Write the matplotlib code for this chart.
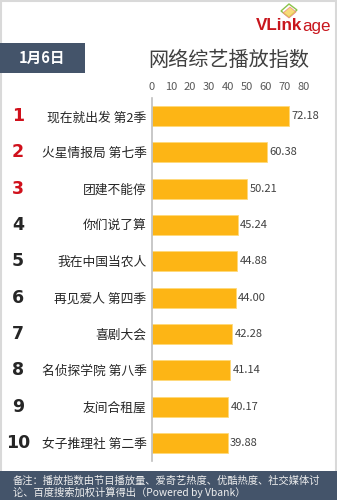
import matplotlib
matplotlib.use("Agg")
import matplotlib.pyplot as plt
from matplotlib.patches import Rectangle, Polygon
from matplotlib.transforms import blended_transform_factory

plt.rcParams['font.family'] = ['Noto Sans CJK SC', 'DejaVu Sans']

# ---- data ----
ranks = ["1", "2", "3", "4", "5", "6", "7", "8", "9", "10"]
shows = ["现在就出发 第2季", "火星情报局 第七季", "团建不能停", "你们说了算", "我在中国当农人",
         "再见爱人 第四季", "喜剧大会", "名侦探学院 第八季", "友间合租屋", "女子推理社 第二季"]
values = [72.18, 60.38, 50.21, 45.24, 44.88, 44.00, 42.28, 41.14, 40.17, 39.88]
xticks = [0, 10, 20, 30, 40, 50, 60, 70, 80]
title = "网络综艺播放指数"
date_label = "1月6日"
note_lines = ["备注：播放指数由节目播放量、爱奇艺热度、优酷热度、社交媒体讨",
              "论、百度搜索加权计算得出（Powered by Vbank）"]

W, H = 337, 500
fig = plt.figure(figsize=(W / 100, H / 100), dpi=100)
fig.patch.set_facecolor('white')

def fx(px):
    return px / W

def fy(py):
    return 1 - py / H

# border
fig.patches.append(Rectangle((0.002, 0.002), 0.996, 0.996, transform=fig.transFigure,
                             fill=False, edgecolor='#D9D9D9', linewidth=1.5))

# axes
ax = fig.add_axes([fx(152), fy(461), fx(304) - fx(152), fy(98) - fy(461)])
ypos = list(range(len(shows)))
ax.barh(ypos, values, height=0.55, color='#FDB515', edgecolor='#FFD97A', linewidth=0.6, zorder=2)
ax.set_xlim(0, 80)
ax.set_ylim(len(shows) - 0.5, -0.5)
ax.set_xticks(xticks)
ax.xaxis.tick_top()
ax.tick_params(axis='x', length=0, pad=4, labelsize=8, labelcolor='#595959')
ax.set_yticks(ypos)
ax.set_yticklabels(shows)
ax.tick_params(axis='y', length=0, pad=4, labelsize=9.2, labelcolor='#262626')
for s in ['top', 'right', 'bottom']:
    ax.spines[s].set_visible(False)
ax.spines['left'].set_color('#BFBFBF')
ax.spines['left'].set_linewidth(1.2)
ax.set_facecolor('none')

for y, v in zip(ypos, values):
    ax.text(v + 1.2, y, f"{v:.2f}", va='center', ha='left', fontsize=8, color='#404040')

tr = blended_transform_factory(fig.transFigure, ax.transData)
for y, r in zip(ypos, ranks):
    col = '#D0101B' if y < 3 else '#262626'
    ax.text(fx(18), y, r, transform=tr, ha='center', va='center', fontsize=12.5,
            fontweight='bold', color=col, family='DejaVu Sans')

# title
fig.text(fx(229), fy(60), title, ha='center', va='center', fontsize=14.5, color='#404040')

# date box
fig.patches.append(Rectangle((fx(0), fy(73)), fx(85), fy(43) - fy(73), transform=fig.transFigure,
                             facecolor='#44546A', edgecolor='none'))
fig.text(fx(42), fy(58), date_label, ha='center', va='center', fontsize=10.5,
         fontweight='bold', color='white')

# footer
fig.patches.append(Rectangle((fx(0), fy(500)), fx(337), fy(471) - fy(500), transform=fig.transFigure,
                             facecolor='#44546A', edgecolor='none'))
fig.text(fx(13), fy(480.5), note_lines[0], ha='left', va='center', fontsize=7.4, color='#F0F0F0')
fig.text(fx(13), fy(492.5), note_lines[1], ha='left', va='center', fontsize=7.4, color='#F0F0F0')

# logo: size it so "VLinkage" spans x=256..331
renderer = fig.canvas.get_renderer()
base = 10.0
t1 = fig.text(0, 0, "VLink", fontsize=base, fontweight='bold', family='Liberation Sans')
t2 = fig.text(0, 0, "age", fontsize=base, family='Liberation Sans')
wtot = t1.get_window_extent(renderer).width + t2.get_window_extent(renderer).width
t1.remove(); t2.remove()
fs = base * 75.0 / wtot
t1 = fig.text(fx(256), fy(26), "VLink", ha='left', va='center', fontsize=fs, fontweight='bold',
              color='#C8161D', family='Liberation Sans')
bb = t1.get_window_extent(renderer)
fig.text(bb.x1 / W, fy(26), "age", ha='left', va='center', fontsize=fs,
         color='#C8161D', family='Liberation Sans')
fig.patches.append(Polygon([(fx(281), fy(11)), (fx(289), fy(4)), (fx(297), fy(10)), (fx(289), fy(17))],
                           closed=True, transform=fig.transFigure, facecolor='none',
                           edgecolor='#8BC34A', linewidth=1.0))
fig.patches.append(Polygon([(fx(283), fy(13)), (fx(290), fy(7)), (fx(296), fy(12)), (fx(289), fy(18))],
                           closed=True, transform=fig.transFigure, facecolor='#F7D358',
                           edgecolor='#F08080', linewidth=0.6, alpha=0.8))

fig.savefig('out.png', dpi=100)
